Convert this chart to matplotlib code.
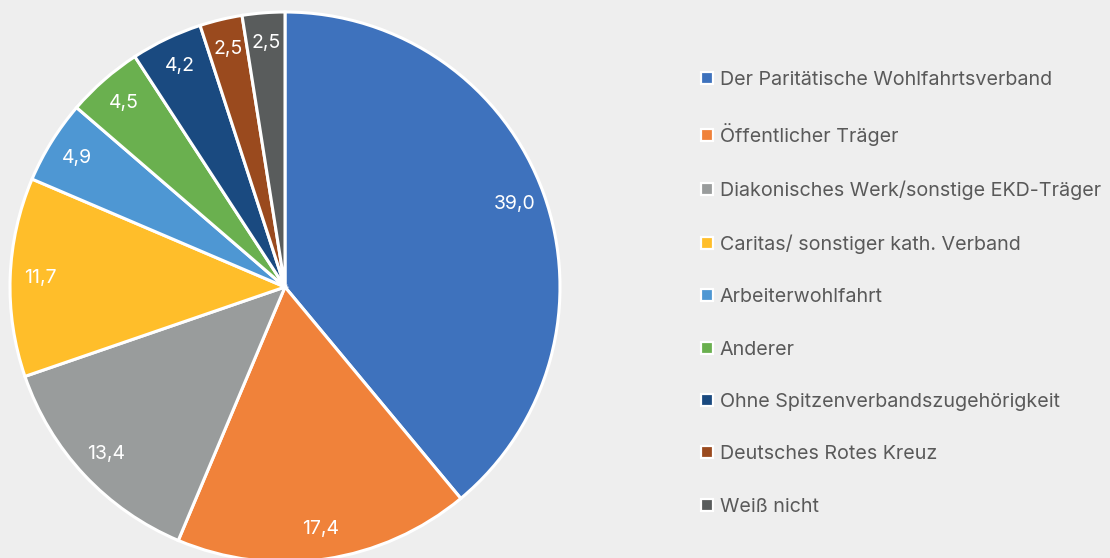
import matplotlib
matplotlib.use("Agg")
import matplotlib.pyplot as plt
from matplotlib.lines import Line2D

categories = ["Der Paritätische Wohlfahrtsverband", "Öffentlicher Träger",
              "Diakonisches Werk/sonstige EKD-Träger", "Caritas/ sonstiger kath. Verband",
              "Arbeiterwohlfahrt", "Anderer", "Ohne Spitzenverbandszugehörigkeit",
              "Deutsches Rotes Kreuz", "Weiß nicht"]
values = [39.0, 17.4, 13.4, 11.7, 4.9, 4.5, 4.2, 2.5, 2.5]
colors = ["#3E72BD", "#F0823A", "#999C9C", "#FFBE2A", "#4E97D3",
          "#6AB04F", "#1A4A80", "#9A4A1E", "#595C5C"]

plt.rcParams['font.family'] = ['Inter', 'DejaVu Sans']
bg = "#EEEEEE"
fig = plt.figure(figsize=(11.1, 5.58), dpi=100, facecolor=bg)
ax = fig.add_axes([0, 0, 1, 1])
ax.set_facecolor(bg)

wedges, texts = ax.pie(values, colors=colors, startangle=90, counterclock=False,
                       center=(285, 558 - 287), radius=275, frame=True,
                       labels=[f"{v:.1f}".replace(".", ",") for v in values],
                       labeldistance=0.89,
                       wedgeprops=dict(edgecolor="white", linewidth=2.2))
for t in texts:
    t.set_color("white")
    t.set_fontsize(14)
    t.set_ha("center")
    t.set_va("center")

ax.set_xlim(0, 1110)
ax.set_ylim(0, 558)
ax.set_aspect("equal")
ax.axis("off")

handles = [Line2D([], [], marker="s", linestyle="none", markersize=9,
                  markerfacecolor=c, markeredgecolor="white", markeredgewidth=1.6)
           for c in colors]
leg = ax.legend(handles, categories, loc="upper left",
                bbox_to_anchor=(700 / 1110, 1 - 71 / 558), bbox_transform=fig.transFigure,
                frameon=False, fontsize=14.2, labelcolor="#595959",
                handlelength=0.7, handletextpad=0.3, labelspacing=1.74,
                borderaxespad=0, borderpad=0)

fig.savefig("out.png", dpi=100, facecolor=bg)
